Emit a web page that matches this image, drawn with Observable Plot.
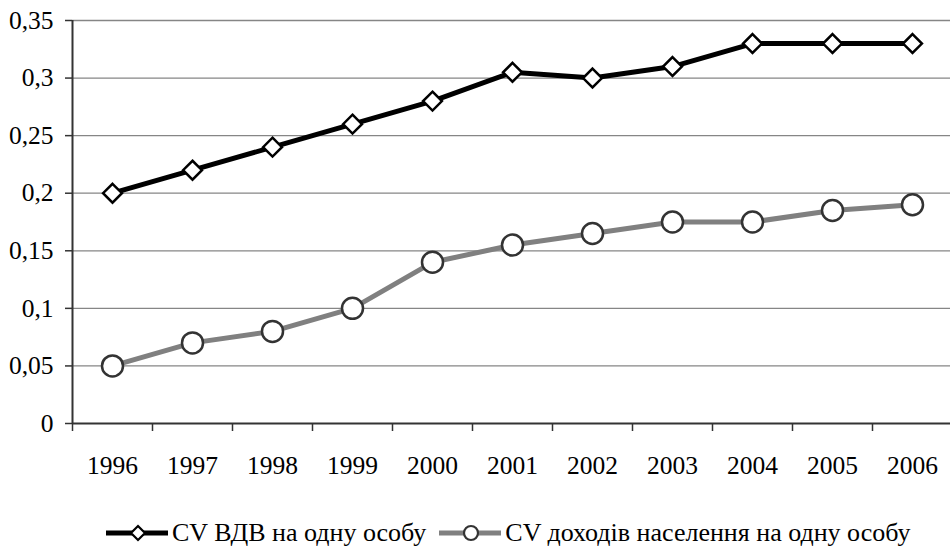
<!DOCTYPE html>
<html><head><meta charset="utf-8">
<script src="https://cdn.jsdelivr.net/npm/d3@7"></script>
<script src="https://cdn.jsdelivr.net/npm/@observablehq/plot@0.6"></script>
<style>
body{margin:0;background:#fff;font-family:'Liberation Serif','Times New Roman',serif;}
#legend{display:flex;justify-content:flex-start;align-items:center;font-family:'Liberation Serif','Times New Roman',serif;font-size:26px;height:40px;margin-top:13px;padding-left:106px;color:#000;white-space:nowrap}
#legend .item{display:flex;align-items:center;margin-right:13px}
#legend svg{margin-right:4px}
svg text{font-family:'Liberation Serif','Times New Roman',serif}
</style>
</head><body>
<div id="chart"></div>
<div id="legend"></div>
<script>
const years = ["1996","1997","1998","1999","2000","2001","2002","2003","2004","2005","2006"];
const seriesNames = ["CV ВДВ на одну особу","CV доходів населення на одну особу"];
const cvGdp = [0.2,0.22,0.24,0.26,0.28,0.305,0.3,0.31,0.33,0.33,0.33];
const cvIncome = [0.05,0.07,0.08,0.1,0.14,0.155,0.165,0.175,0.175,0.185,0.19];
const yTicks = [0,0.05,0.1,0.15,0.2,0.25,0.3,0.35];

const gdp = years.map((y,i)=>({year:y,value:cvGdp[i]}));
const inc = years.map((y,i)=>({year:y,value:cvIncome[i]}));
const fmt = d => String(+d.toFixed(2)).replace(".", ",");
const FONT = "'Liberation Serif','Times New Roman',serif";
const half = 880/11/2;

const chart = Plot.plot({
  width: 950, height: 500,
  marginLeft: 72, marginRight: -2, marginTop: 20, marginBottom: 77,
  style: {fontFamily: FONT, fontSize: "25px", color: "#000", background: "#fff", overflow: "visible"},
  x: {type: "band", domain: years, padding: 0, label: null, axis: null},
  y: {domain: [0, 0.35], label: null, axis: null},
  marks: [
    Plot.ruleY(yTicks.filter(d=>d>0), {stroke: "#868686", strokeWidth: 1.3}),
    Plot.axisY({ticks: yTicks, tickFormat: fmt, tickSize: 7, tickPadding: 12, stroke: "#333", strokeWidth: 1.5, fontSize: 25.5, fontFamily: FONT, label: null}),
    Plot.ruleX([years[0]], {dx: -half, y1: 0, y2: 0.35, stroke: "#333", strokeWidth: 2}),
    Plot.ruleX(years, {x: d=>d, dx: -half, y1: 0, y2: 0, insetBottom: -8, stroke: "#333", strokeWidth: 1.5}),
    Plot.ruleY([0], {stroke: "#333", strokeWidth: 2}),
    Plot.text(years, {x: d=>d, y: 0, dy: 42, text: d=>d, fontSize: 25.5, fontFamily: FONT}),
    Plot.line(inc, {x: "year", y: "value", stroke: "#808080", strokeWidth: 5}),
    Plot.dot(inc, {x: "year", y: "value", r: 10.5, fill: "#fff", stroke: "#333", strokeWidth: 2.5, symbol: "circle"}),
    Plot.line(gdp, {x: "year", y: "value", stroke: "#000", strokeWidth: 5}),
    Plot.dot(gdp, {x: "year", y: "value", r: 8.5, fill: "#fff", stroke: "#000", strokeWidth: 2.5, symbol: "diamond2"})
  ]
});
document.getElementById("chart").appendChild(chart);

const leg = document.getElementById("legend");
const specs = [
  {name: seriesNames[0], line: "#000", sym: "diamond"},
  {name: seriesNames[1], line: "#808080", sym: "circle"}
];
specs.forEach(s=>{
  const item = document.createElement("div"); item.className="item";
  let shape = s.sym==="diamond"
    ? `<path d="M32,7 L39,14 L32,21 L25,14 Z" fill="#fff" stroke="#000" stroke-width="2.2"/>`
    : `<circle cx="32" cy="14" r="7" fill="#fff" stroke="#333" stroke-width="2.2"/>`;
  item.innerHTML = `<svg width="62" height="28"><line x1="0" x2="62" y1="14" y2="14" stroke="${s.line}" stroke-width="5"/>${shape}</svg><span>${s.name}</span>`;
  leg.appendChild(item);
});
</script>
</body></html>
